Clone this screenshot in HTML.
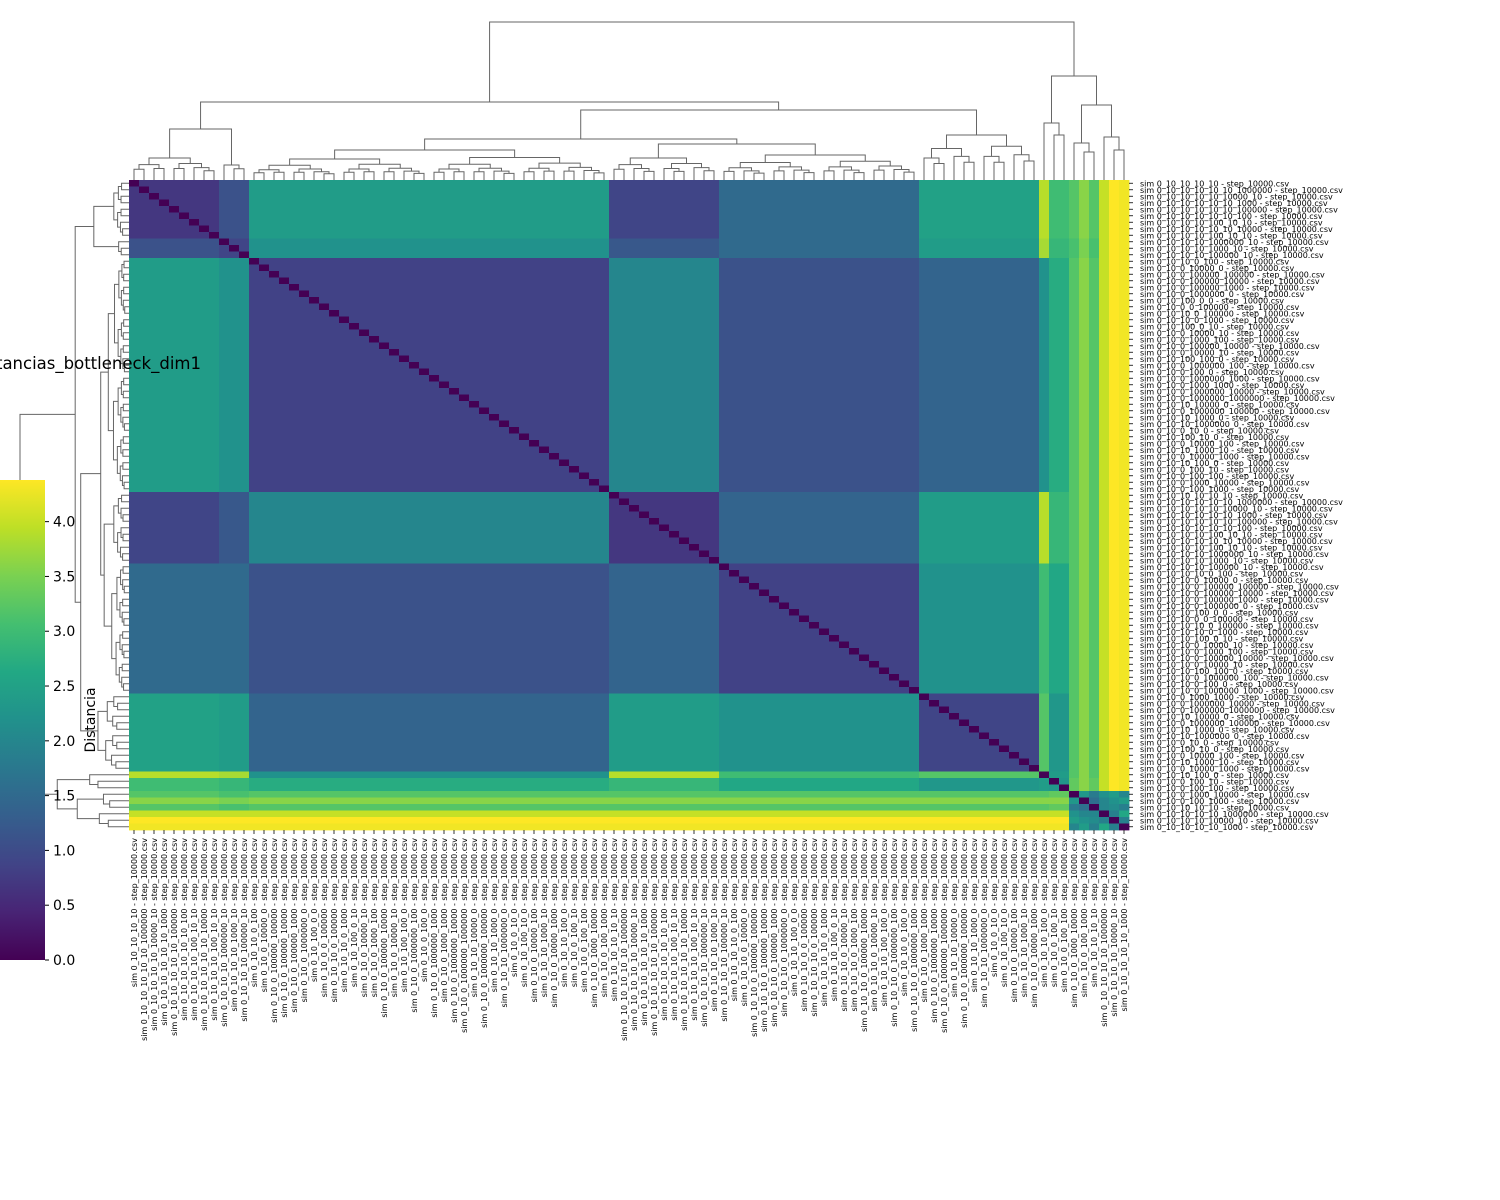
<!DOCTYPE html>
<html><head><meta charset="utf-8"><style>
html,body{margin:0;padding:0;background:#fff;width:1500px;height:1200px;overflow:hidden}
svg{display:block;font-family:"DejaVu Sans","Liberation Sans",sans-serif}
</style></head><body>
<svg id="chart" width="1500" height="1200" viewBox="0 0 1500 1200">
<defs><linearGradient id="vir" x1="0" y1="1" x2="0" y2="0"></linearGradient></defs>
<g id="cells"></g>
<g id="dendTop" stroke="#666" stroke-width="1" fill="none"></g>
<g id="dendLeft" stroke="#666" stroke-width="1" fill="none"></g>
<g id="rowLabels"></g>
<g id="colLabels"></g>
<rect x="0" y="480" width="45" height="480" fill="url(#vir)"/>
<g id="cbar"></g>
<text x="95" y="720" font-size="14" text-anchor="middle" transform="rotate(-90 95 720)">Distancia</text>
<text x="201" y="369" font-size="16.5" text-anchor="end">Distancias_bottleneck_dim1</text>
</svg>
<script>
// ---- data ----
const groupSizes = [9,3,36,11,20,12,1,2,1,1,1,1,1,1];
const groupNames = ["A1","A2","B","C","D","E","F","G","H1","H2","H3","H4","H5","H6"];
const withinGroup = [0.7,0.9,0.85,0.7,0.85,0.9,0,2.3,0,0,0,0,0,0];
const blockRowA1 = [0.7,1.1,2.4,0.9,1.5,2.5,3.9,3.0,3.2,3.6,3.2,4.0,4.38,4.3];
const blockRowA2 = [1.1,0.9,2.2,1.2,1.5,2.4,3.8,2.9,3.1,3.5,3.1,4.0,4.38,4.3];
const blockRowB  = [2.4,2.2,0.85,2.0,1.1,1.4,2.2,2.7,3.2,3.6,3.2,4.0,4.38,4.3];
const blockRowC  = [0.9,1.2,2.0,0.7,1.4,2.4,3.9,2.9,3.2,3.6,3.2,4.0,4.38,4.3];
const blockRowD  = [1.5,1.5,1.1,1.4,0.85,2.2,3.0,2.6,3.2,3.6,3.2,4.0,4.38,4.3];
const blockRowE  = [2.5,2.4,1.4,2.4,2.2,0.9,3.2,2.3,3.2,3.6,3.2,4.0,4.38,4.3];
const blockRowF  = [3.9,3.8,2.2,3.9,3.0,3.2,0,2.4,3.2,3.6,3.2,4.0,4.38,4.3];
const blockRowG  = [3.0,2.9,2.7,2.9,2.6,2.3,2.4,2.3,3.3,3.6,3.3,4.0,4.38,4.3];
const blockRowH1 = [3.2,3.1,3.2,3.2,3.2,3.2,3.2,3.3,0,2.3,1.8,2.2,2.4,2.0];
const blockRowH2 = [3.6,3.5,3.6,3.6,3.6,3.6,3.6,3.6,2.3,0,1.6,2.0,2.2,2.4];
const blockRowH3 = [3.2,3.1,3.2,3.2,3.2,3.2,3.2,3.3,1.8,1.6,0,2.0,2.1,1.9];
const blockRowH4 = [4.0,4.0,4.0,4.0,4.0,4.0,4.0,4.0,2.2,2.0,2.0,0,1.9,2.6];
const blockRowH5 = [4.38,4.38,4.38,4.38,4.38,4.38,4.38,4.38,2.4,2.2,2.1,1.9,0,1.9];
const blockRowH6 = [4.3,4.3,4.3,4.3,4.3,4.3,4.3,4.3,2.0,2.4,1.9,2.6,1.9,0];
const blockRows = [blockRowA1,blockRowA2,blockRowB,blockRowC,blockRowD,blockRowE,blockRowF,blockRowG,blockRowH1,blockRowH2,blockRowH3,blockRowH4,blockRowH5,blockRowH6];
const cbarTicks = [0.0,0.5,1.0,1.5,2.0,2.5,3.0,3.5,4.0];
const vmin = 0, vmax = 4.38;
const paramSets = ["10_10_10","10_10_10_1000000","10_10_10000_10","10_10_10_1000","10_10_10_100000","10_10_10_100","10_100_10_10","10_10_10_10000","10_100_10_10","10_1000000_10","10_1000_10","10_100000_10","10_0_100","0_10000_0","0_100000_100000","0_100000_10000","0_100000_1000","0_1000000_0","100_0_0","0_0_100000","10_0_100000","10_0_1000","100_0_10","0_10000_10","0_1000_100","0_100000_10000","0_10000_10","100_100_0","0_1000000_100","0_100_0","0_1000000_1000","0_1000_1000","0_1000000_10000","0_1000000_1000000","10_10000_0","0_1000000_100000","10_1000_0","10_1000000_0","0_10_0","100_10_0","0_10000_100","10_1000_10","0_10000_1000","10_100_0","0_100_10","0_100_100","0_1000_10000","0_100_1000"];
// ---- layout ----
const X0=129, Y0=180, CW=10, CH=6.5;
const N = groupSizes.reduce((a,b)=>a+b,0);
const groupOf=[]; groupSizes.forEach((s,g)=>{for(let k=0;k<s;k++)groupOf.push(g);});
const labels=[]; for(let i=0;i<N;i++){const p=paramSets[i%paramSets.length];labels.push("sim 0_10_"+(i<12?"10_":i<48?"":i<79?"10_":"")+p+" - step_10000.csv");}
labels[0]="sim 0_10_10_10_10 - step_10000.csv";
function value(i,j){ if(i===j) return 0; const gi=groupOf[i],gj=groupOf[j]; if(gi===gj) return withinGroup[gi]; return blockRows[gi][gj]; }
const VIR=[[68,1,84],[72,36,117],[65,68,135],[53,95,141],[42,120,142],[33,145,140],[34,168,132],[68,191,112],[122,209,81],[189,223,38],[253,231,37]];
function viridis(t){t=Math.max(0,Math.min(1,t));const p=t*(VIR.length-1),k=Math.min(VIR.length-2,Math.floor(p)),f=p-k;const c=VIR[k].map((v,m)=>Math.round(v+(VIR[k+1][m]-v)*f));return "rgb("+c.join(",")+")";}
const xS=j=>X0+j*CW, yS=i=>Y0+i*CH, cS=v=>viridis((v-vmin)/(vmax-vmin));
const NS="http://www.w3.org/2000/svg";
function mk(tag,attrs,parent){const e=document.createElementNS(NS,tag);for(const k in attrs)e.setAttribute(k,attrs[k]);parent.appendChild(e);return e;}
const grad=document.getElementById('vir');
for(let k=0;k<VIR.length;k++){mk('stop',{offset:(k/(VIR.length-1)),'stop-color':'rgb('+VIR[k].join(',')+')'},grad);}
const cg=document.getElementById('cells');
for(let i=0;i<N;i++)for(let j=0;j<N;j++){
  const r=mk('rect',{x:xS(j),y:yS(i),width:CW+0.4,height:CH+0.4,fill:cS(value(i,j))},cg);
  
  
}
const rl=document.getElementById('rowLabels'), cl=document.getElementById('colLabels');
for(let i=0;i<N;i++){
  mk('line',{x1:1129,x2:1133,y1:yS(i)+CH/2,y2:yS(i)+CH/2,stroke:'#000','stroke-width':0.8},rl);
  const t=mk('text',{x:1140,y:yS(i)+CH/2+3,'font-size':8},rl); t.textContent=labels[i];
  
  
  const cx=xS(i)+CW/2;
  mk('line',{x1:cx,x2:cx,y1:830,y2:834,stroke:'#000','stroke-width':0.8},cl);
  const c=mk('text',{x:cx+3,y:838,'font-size':8,'text-anchor':'end',transform:'rotate(-90 '+(cx+3)+' 838)'},cl); c.textContent=labels[i];
  
  
}
const cb=document.getElementById('cbar');
cbarTicks.forEach(v=>{const y=960-(v-vmin)/(vmax-vmin)*480;mk('line',{x1:45,x2:49,y1:y,y2:y,stroke:'#000'},cb);const t=mk('text',{x:53,y:y+5,'font-size':14},cb);t.textContent=v.toFixed(1);
  
  });
const gStart=[];let acc=0;groupSizes.forEach(s=>{gStart.push(acc);acc+=s;});
function sub(a,b,h){ if(b-a===1) return {leaf:a}; const m=Math.floor((a+b)/2); return {h:h,c:[sub(a,m,h*0.7),sub(m,b,h*0.75)]}; }
function grp(g,h){return sub(gStart[g],gStart[g]+groupSizes[g],h);}
const tree={h:158,c:[
  {h:78,c:[{h:51,c:[grp(0,22),grp(1,15)]},
           {h:70,c:[{h:41,c:[grp(2,30),{h:36,c:[grp(3,22),grp(4,25)]}]},grp(5,45)]}]},
  {h:104,c:[{h:57,c:[grp(6,0),grp(7,45)]},
            {h:75,c:[{h:37,c:[grp(8,0),{h:28,c:[grp(9,0),grp(10,0)]}]},{h:43,c:[grp(11,0),{h:30,c:[grp(12,0),grp(13,0)]}]}]}]}
]};
const dt=document.getElementById('dendTop'), dl=document.getElementById('dendLeft');
function draw(n){ if(n.leaf!==undefined) return {p:n.leaf+0.5,h:0};
  const a=draw(n.c[0]), b=draw(n.c[1]);
  const tx=p=>X0+p*CW, ty=h=>180-h;
  mk('polyline',{points:`${tx(a.p)},${ty(a.h)} ${tx(a.p)},${ty(n.h)} ${tx(b.p)},${ty(n.h)} ${tx(b.p)},${ty(b.h)}`},dt);
  const ly=p=>Y0+p*CH, lx=h=>129-h*109/158;
  mk('polyline',{points:`${lx(a.h)},${ly(a.p)} ${lx(n.h)},${ly(a.p)} ${lx(n.h)},${ly(b.p)} ${lx(b.h)},${ly(b.p)}`},dl);
  return {p:(a.p+b.p)/2,h:n.h};
}
draw(tree);
</script>
</body></html>
